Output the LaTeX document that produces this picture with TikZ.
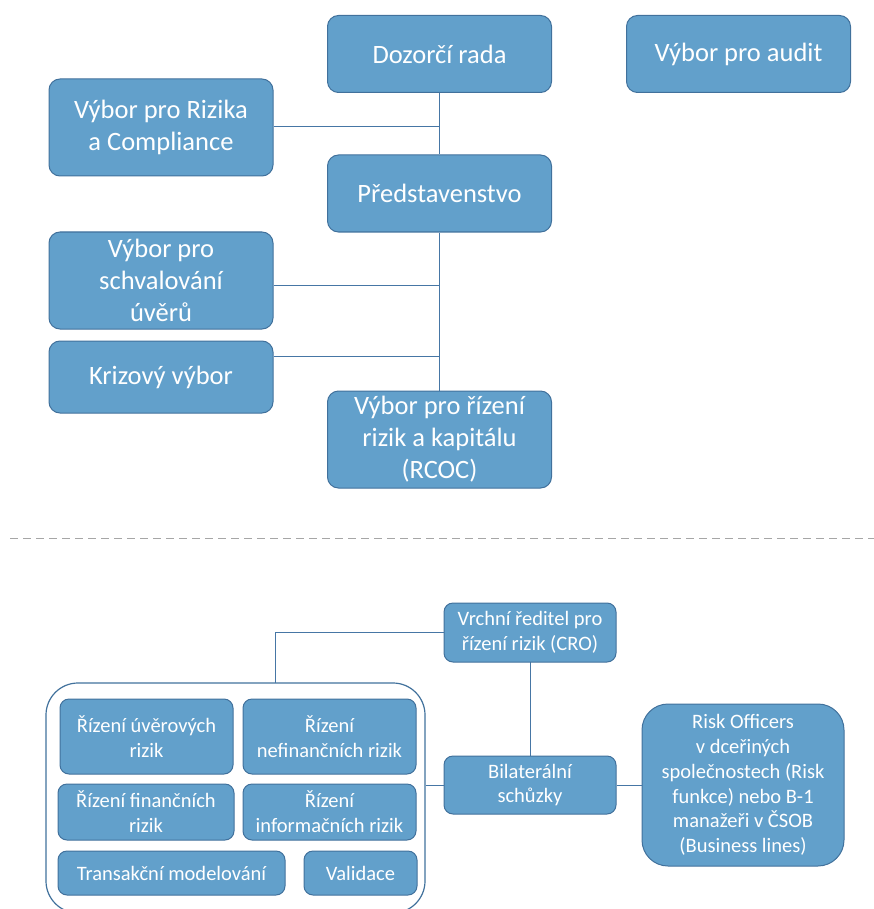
\documentclass[tikz,border=0pt]{standalone}
\usepackage{fontspec}
\setmainfont{Carlito}
\definecolor{boxfill}{RGB}{98,160,203}
\definecolor{boxline}{RGB}{65,113,156}
\definecolor{conn}{RGB}{70,118,165}
\begin{document}
\begin{tikzpicture}[x=1pt,y=-1pt,
  bigbox/.style={rectangle, rounded corners=11pt, fill=boxfill, draw=boxline, line width=1pt,
    text=white, align=center, inner sep=0pt, font=\fontsize{26.5}{32}\selectfont},
  smallbox/.style={rectangle, rounded corners=9pt, fill=boxfill, draw=boxline, line width=1pt,
    text=white, align=center, inner sep=0pt, font=\fontsize{20.5}{24.8}\selectfont},
  conline/.style={draw=conn, line width=1pt},
  container/.style={rectangle, rounded corners=32pt, draw=boxline, line width=1.2pt},
  sep/.style={draw=gray!70, line width=1pt, dash pattern=on 8pt off 5pt}]
\useasboundingbox (0,0) rectangle (874,909);
\begin{scope}
\clip (0,0) rectangle (874,909);
% ---------- top part ----------
\node[bigbox, minimum width=224, minimum height=77] (dr) at (439.5,54) {Dozorčí rada};
\node[bigbox, minimum width=224, minimum height=77] (vpa) at (738.5,54) {Výbor pro audit};
\node[bigbox, minimum width=224, minimum height=97] (vrc) at (161,127.5) {Výbor pro Rizika\\a Compliance};
\node[bigbox, minimum width=224, minimum height=77] (pr) at (439.5,193.5) {Představenstvo};
\node[bigbox, minimum width=224, minimum height=97] (vsu) at (161,280.5) {Výbor pro\\schvalování\\úvěrů};
\node[bigbox, minimum width=224, minimum height=72] (kv) at (161,377) {Krizový výbor};
\node[bigbox, minimum width=224, minimum height=97] (rcoc) at (439.5,439.5) {Výbor pro řízení\\rizik a kapitálu\\(RCOC)};

\coordinate (j1) at (440,127);
\coordinate (j2) at (440,285);
\coordinate (j3) at (440,356);
\draw[conline] (dr.south) -- (pr.north);
\draw[conline] (pr.south) -- (rcoc.north);
\draw[conline] (j1 -| vrc.east) -- (j1);
\draw[conline] (j2 -| vsu.east) -- (j2);
\draw[conline] (j3 -| kv.east) -- (j3);

% ---------- separator ----------
\coordinate (s1) at (10,538);
\coordinate (s2) at (874,538);
\draw[sep] (s1) -- (s2);

% ---------- bottom part ----------
\node[container, minimum width=379, minimum height=230] (cont) at (235.5,798) {};
\node[smallbox, minimum width=173, minimum height=75] (ru) at (146.5,736.5) {Řízení úvěrových\\rizik};
\node[smallbox, minimum width=173, minimum height=75] (rn) at (329.5,736.5) {Řízení\\nefinančních rizik};
\node[smallbox, minimum width=176, minimum height=56] (rf) at (146,812) {Řízení finančních\\rizik};
\node[smallbox, minimum width=173, minimum height=56] (ri) at (329.5,812) {Řízení\\informačních rizik};
\node[smallbox, minimum width=227, minimum height=44] (tm) at (171.5,873) {Transakční modelování};
\node[smallbox, minimum width=113, minimum height=44] (val) at (360.5,873) {Validace};

\draw[conline] (530,640) coordinate (crob) -- (530,770) coordinate (bilt);
\node[smallbox, minimum width=172, minimum height=59] (cro) at (530,632.5) {Vrchní ředitel pro\\řízení rizik (CRO)};
\node[smallbox, minimum width=172, minimum height=58] (bil) at (530,785) {Bilaterální\\schůzky};
\node[smallbox, rounded corners=26pt, minimum width=202, minimum height=162] (ro) at (743,785) {Risk Officers\\v dceřiných\\společnostech (Risk\\funkce) nebo B-1\\manažeři v ČSOB\\(Business lines)};

\coordinate (c1) at (275,683);
\draw[conline] (cro.west) -| (c1);
\draw[conline] (bil.west -| cont.east) -- (bil.west);
\draw[conline] (bil.east) -- (bil.east -| ro.west);
\end{scope}
\end{tikzpicture}
\end{document}
